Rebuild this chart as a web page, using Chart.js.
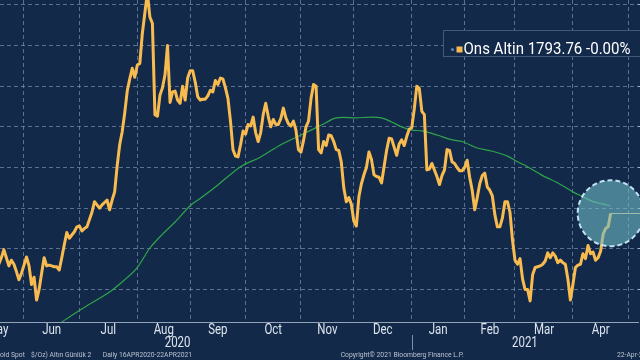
<!DOCTYPE html>
<html>
<head>
<meta charset="utf-8">
<script src="https://cdn.jsdelivr.net/npm/chart.js@4.4.1/dist/chart.umd.min.js"></script>
<style>
  html, body { margin: 0; padding: 0; background: #13294a; overflow: hidden; }
  canvas { display: block; }
</style>
</head>
<body>
<canvas id="goldChart" width="640" height="360"></canvas>
<script>
// gold spot close, one value per trading day (Mon-Fri) starting goldStart
const goldStart = '2020-05-18';
const goldClose = [
  1731, 1739, 1749, 1739, 1729, 1736, 1731, 1722, 1712, 1720,
  1730, 1740, 1729, 1706, 1715, 1687, 1700, 1720, 1739, 1729,
  1730, 1729, 1728, 1728, 1724, 1739, 1755, 1770, 1763, 1767,
  1771, 1777, 1778, 1772, 1775, 1777, 1786, 1795, 1808, 1804,
  1800, 1804, 1807, 1810, 1798, 1810, 1820, 1852, 1878, 1894,
  1917, 1944, 1959, 1972, 1961, 1976, 1978, 2015, 2040, 2065,
  2035, 2027, 1915, 1913, 1939, 1948, 1964, 2000, 1930, 1943,
  1944, 1933, 1929, 1950, 1933, 1960, 1969, 1969, 1955, 1937,
  1933, 1934, 1934, 1938, 1945, 1943, 1957, 1952, 1960, 1959,
  1948, 1935, 1907, 1872, 1864, 1863, 1878, 1895, 1891, 1903,
  1901, 1912, 1893, 1882, 1893, 1915, 1929, 1913, 1900, 1909,
  1903, 1903, 1910, 1923, 1911, 1904, 1901, 1907, 1896, 1872,
  1869, 1883, 1900, 1907, 1935, 1952, 1950, 1872, 1868, 1882,
  1877, 1890, 1889, 1882, 1872, 1871, 1857, 1825, 1808, 1813,
  1805, 1784, 1778, 1814, 1830, 1841, 1850, 1869, 1860, 1841,
  1839, 1838, 1831, 1851, 1871, 1886, 1885, 1875, 1865, 1879,
  1884, 1877, 1888, 1897, 1899, 1922, 1950, 1947, 1919, 1915,
  1847, 1848, 1855, 1847, 1839, 1829, 1840, 1847, 1872, 1871,
  1857, 1855, 1850, 1846, 1846, 1850, 1859, 1838, 1822, 1798,
  1813, 1830, 1840, 1843, 1826, 1822, 1815, 1792, 1777, 1777,
  1788, 1808, 1808, 1795, 1761, 1736, 1731, 1738, 1713, 1700,
  1700, 1686, 1718, 1727, 1728, 1729, 1731, 1735, 1745, 1739,
  1745, 1741, 1733, 1736, 1733, 1731, 1713, 1687, 1706, 1727,
  1730, 1731, 1744, 1738, 1754, 1744, 1746, 1736, 1739, 1747,
  1768, 1775, 1777, 1793.76
];

// moving average (green)
const maDates = [
  '2020-06-15', '2020-06-23', '2020-07-06', '2020-07-17', '2020-07-27', '2020-08-03',
  '2020-08-10', '2020-08-17', '2020-08-24', '2020-09-01', '2020-09-07', '2020-09-15',
  '2020-09-29', '2020-10-09', '2020-10-21', '2020-11-02', '2020-11-12', '2020-11-20',
  '2020-12-02', '2020-12-10', '2020-12-16', '2020-12-22', '2020-12-28', '2021-01-01',
  '2021-01-07', '2021-01-15', '2021-01-25', '2021-01-29', '2021-02-08', '2021-02-16',
  '2021-02-24', '2021-03-02', '2021-03-08', '2021-03-16', '2021-03-24', '2021-04-01',
  '2021-04-07', '2021-04-13', '2021-04-19', '2021-04-22'
];
const maValues = [
  1648, 1662, 1680, 1697, 1712, 1727,
  1751, 1768, 1783, 1803, 1812, 1826,
  1851, 1863, 1878, 1890, 1902, 1911,
  1911, 1912, 1911, 1906, 1900, 1896,
  1895, 1890, 1884, 1882, 1874, 1870,
  1864, 1857, 1851, 1840, 1831, 1820,
  1814, 1808, 1805, 1803
];

const monthStarts = ['2020-05-01', '2020-06-01', '2020-07-01', '2020-08-01', '2020-09-01', '2020-10-01',
  '2020-11-01', '2020-12-01', '2021-01-01', '2021-02-01', '2021-03-01', '2021-04-01', '2021-05-01', '2021-06-01'];
const monthNames = ['May', 'Jun', 'Jul', 'Aug', 'Sep', 'Oct', 'Nov', 'Dec', 'Jan', 'Feb', 'Mar', 'Apr', 'May'];
const yearStarts = ['2020-04-16', '2021-01-01'];
const yearNames = ['2020', '2021'];
const yTicks = [1700, 1750, 1800, 1850, 1900, 1950, 2000, 2050];

const legendText = 'Ons Altin 1793.76 -0.00%';
const lastDate = '2021-04-22';
const lastValue = 1793.76;

// trading-day position: count weekdays from the start of the series range
function idx(dateStr) {
  const base = Date.UTC(2020, 3, 16);
  const t = Date.parse(dateStr + 'T00:00:00Z');
  let n = 0;
  for (let d = base; d < t; d += 86400000) {
    const wd = new Date(d).getUTCDay();
    if (wd !== 0 && wd !== 6) n++;
  }
  return n;
}

const g0 = idx(goldStart);
const goldPoints = goldClose.map((v, k) => ({ x: g0 + k, y: v }));
const maPoints = maDates.map((d, k) => ({ x: idx(d), y: maValues[k] }));

const xMin = idx('2020-05-18') + 0.47;
const xMax = idx(lastDate) + 10.85;

const bg = '#13294a';
const gridColor = 'rgba(140, 162, 195, 0.6)';
const textColor = '#dde4ee';
const font = 'Roboto, "Liberation Sans", sans-serif';

function drawText(ctx, text, x, y, size, color, align, sx) {
  ctx.save();
  ctx.font = size + 'px ' + font;
  ctx.fillStyle = color;
  ctx.textBaseline = 'middle';
  ctx.textAlign = align || 'left';
  ctx.translate(x, y);
  ctx.scale(sx || 1, 1);
  ctx.fillText(text, 0, 0);
  ctx.restore();
}

const decorations = {
  id: 'decorations',
  beforeDraw(chart) {
    const ctx = chart.ctx;
    ctx.save();
    ctx.fillStyle = bg;
    ctx.fillRect(0, 0, chart.width, chart.height);
    ctx.restore();
  },
  afterDatasetsDraw(chart) {
    const { ctx, chartArea } = chart;
    const xs = chart.scales.x, ys = chart.scales.y;
    const lx = xs.getPixelForValue(idx(lastDate));
    const ly = ys.getPixelForValue(lastValue);

    // last value line
    ctx.save();
    ctx.strokeStyle = '#d9bf84';
    ctx.lineWidth = 1;
    ctx.beginPath();
    ctx.moveTo(lx, Math.round(ly) + 0.5);
    ctx.lineTo(chartArea.right + 2, Math.round(ly) + 0.5);
    ctx.stroke();

    // highlight circle
    ctx.beginPath();
    ctx.arc(lx, ly, 33, 0, Math.PI * 2);
    ctx.fillStyle = 'rgba(112, 186, 198, 0.6)';
    ctx.fill();
    ctx.setLineDash([5, 3]);
    ctx.lineWidth = 2;
    ctx.strokeStyle = 'rgba(200, 235, 248, 0.95)';
    ctx.stroke();
    ctx.restore();

    // legend box
    ctx.save();
    ctx.fillStyle = bg;
    ctx.fillRect(443.5, 30.5, 210, 26);
    ctx.strokeStyle = '#44597a';
    ctx.lineWidth = 1;
    ctx.strokeRect(443.5, 30.5, 210, 26);
    ctx.fillStyle = '#5b7fbf';
    ctx.beginPath();
    ctx.arc(452.5, 49.5, 1.6, 0, Math.PI * 2);
    ctx.fill();
    ctx.fillStyle = '#f8bb4f';
    ctx.fillRect(456.5, 46.5, 6, 6);
    ctx.font = '16px ' + font;
    const ls = 167 / ctx.measureText(legendText).width;
    ctx.restore();
    drawText(ctx, legendText, 463.5, 49.5, 16, '#ffffff', 'left', ls);

    // month labels centred inside each month
    for (let m = 0; m < monthNames.length; m++) {
      const a = xs.getPixelForValue(idx(monthStarts[m]));
      const b = xs.getPixelForValue(idx(monthStarts[m + 1]));
      drawText(ctx, monthNames[m], (a + b) / 2, 330, 14, textColor, 'center', 0.82);
    }

    // year labels
    const jan = xs.getPixelForValue(idx(yearStarts[1]));
    const y2020 = (xs.getPixelForValue(idx(yearStarts[0])) + jan) / 2;
    const y2021 = (jan + chartArea.right) / 2;
    drawText(ctx, yearNames[0], y2020, 343.5, 14, textColor, 'center', 0.82);
    drawText(ctx, yearNames[1], y2021, 343.5, 14, textColor, 'center', 0.82);
    ctx.save();
    ctx.strokeStyle = '#7f8ea6';
    ctx.lineWidth = 1;
    ctx.beginPath();
    ctx.moveTo(Math.round(jan) + 0.5, 335);
    ctx.lineTo(Math.round(jan) + 0.5, 350);
    ctx.stroke();
    ctx.restore();

    // footer
    const fc = '#b9c3d0';
    ctx.save();
    ctx.font = '7.5px ' + font;
    const fs = 123 / ctx.measureText('Copyright\u00a9 2021 Bloomberg Finance L.P.').width;
    const gOff = ctx.measureText('(G').width * fs;
    ctx.restore();
    drawText(ctx, '(Gold Spot', -gOff, 355, 7.5, fc, 'left', fs);
    drawText(ctx, '$/Oz) Alt\u0131n G\u00fcnl\u00fck 2', 31, 355, 7.5, fc, 'left', fs);
    drawText(ctx, 'Daily 16APR2020-22APR2021', 102.7, 355, 7.5, fc, 'left', fs);
    drawText(ctx, 'Copyright\u00a9 2021 Bloomberg Finance L.P.', 340.7, 355, 7.5, fc, 'left', fs);
    drawText(ctx, '22-Apr-2021 10:21:57', 617, 355, 7.5, fc, 'left', fs);
  }
};

new Chart(document.getElementById('goldChart'), {
  type: 'line',
  data: {
    datasets: [
      {
        label: 'Ons Altin',
        data: goldPoints,
        borderColor: '#f8bb4f',
        borderWidth: 3,
        borderJoinStyle: 'round',
        pointRadius: 0,
        tension: 0
      },
      {
        label: 'MA',
        data: maPoints,
        borderColor: '#2ea54a',
        borderWidth: 1.2,
        pointRadius: 0,
        tension: 0.3
      }
    ]
  },
  options: {
    responsive: false,
    animation: false,
    layout: { padding: { left: 0, right: 0, top: 0, bottom: 38 } },
    plugins: { legend: { display: false }, tooltip: { enabled: false } },
    scales: {
      x: {
        type: 'linear',
        min: xMin,
        max: xMax,
        ticks: { display: false },
        grid: { color: gridColor, drawTicks: false },
        border: { display: true, color: '#95a3b8', width: 1, dash: [4, 3] },
        afterBuildTicks: s => {
          s.ticks = monthStarts.map(d => ({ value: idx(d) })).filter(t => t.value >= xMin && t.value <= xMax);
        }
      },
      y: {
        position: 'right',
        min: 1660,
        max: 2056,
        ticks: { display: false },
        grid: { color: gridColor, drawTicks: true, tickLength: 2, tickColor: '#a9b5c6', tickBorderDash: [] },
        border: { display: false, dash: [4, 3] },
        afterBuildTicks: s => {
          s.ticks = yTicks.map(v => ({ value: v }));
        }
      }
    }
  },
  plugins: [decorations]
});
</script>
</body>
</html>
